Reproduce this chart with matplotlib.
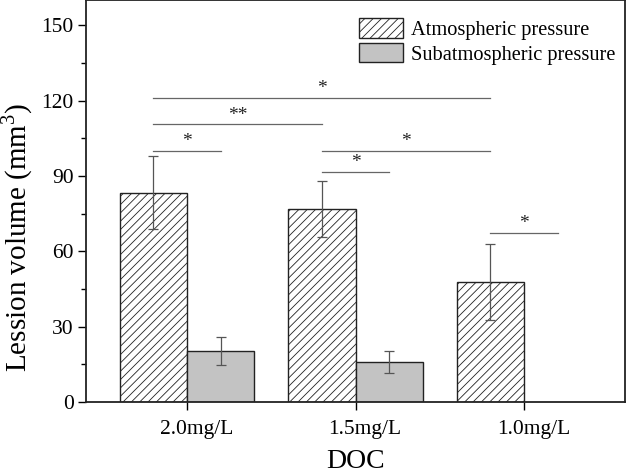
import matplotlib
matplotlib.use("Agg")
import matplotlib.pyplot as plt
import numpy as np
from matplotlib.ticker import MultipleLocator, FixedLocator, NullFormatter, FixedFormatter

plt.rcParams['font.family'] = ['Liberation Serif', 'DejaVu Serif']
plt.rcParams['hatch.linewidth'] = 0.6
plt.rcParams['mathtext.fontset'] = 'custom'
plt.rcParams['mathtext.rm'] = 'Liberation Serif'

categories = ['2.0mg/L', '1.5mg/L', '1.0mg/L']
atm_values = [83.3, 76.9, 47.8]
atm_err = [14.5, 11.2, 15.0]
sub_values = [20.4, 15.9, 0.0]
sub_err = [5.6, 4.3, 0.0]

# significance brackets
sig_x1 = [-0.2, -0.2, -0.2, 0.8, 0.8, 1.8]
sig_x2 = [1.8, 0.8, 0.2, 1.8, 1.2, 2.2]
sig_y = [121, 110.5, 100, 100, 91.5, 67.2]
sig_lab = ['*', '**', '*', '*', '*', '*']

fig = plt.figure(figsize=(6.26, 4.74), dpi=100)
ax = fig.add_axes([86/626, 72/474, 539/626, 402/474])

x = np.arange(len(categories))
w = 0.4
ax.bar(x - w/2, atm_values, w, facecolor='white', edgecolor='#222222', hatch='////',
       linewidth=1.0, label='Atmospheric pressure')
ax.bar(x[:2] + w/2, sub_values[:2], w, facecolor='#c3c3c3', edgecolor='#222222',
       linewidth=1.0, label='Subatmospheric pressure')
ax.errorbar(x - w/2, atm_values, yerr=atm_err, fmt='none', ecolor='#555555',
            elinewidth=0.9, capsize=3.5, capthick=0.9)
ax.errorbar(x[:2] + w/2, sub_values[:2], yerr=sub_err[:2], fmt='none', ecolor='#555555',
            elinewidth=0.9, capsize=3.5, capthick=0.9)

for x1, x2, y, lab in zip(sig_x1, sig_x2, sig_y, sig_lab):
    ax.plot([x1, x2], [y, y], color='#666666', lw=0.9)
    ax.text((x1 + x2) / 2, y + 0.3, lab, ha='center', va='bottom', fontsize=14, color='#222222')

ax.set_xlim(-0.6, 2.6)
ax.set_ylim(0, 160)
# major ticks (marks only) at categories, labels on slightly shifted minor ticks
ax.xaxis.set_major_locator(FixedLocator(x))
ax.xaxis.set_major_formatter(NullFormatter())
ax.xaxis.set_minor_locator(FixedLocator(x + 0.056))
ax.xaxis.set_minor_formatter(FixedFormatter(categories))
ax.tick_params(axis='x', which='major', length=6, width=1, direction='out')
ax.tick_params(axis='x', which='minor', length=0, labelsize=15.5, pad=13)

ax.yaxis.set_major_locator(MultipleLocator(30))
ax.yaxis.set_minor_locator(MultipleLocator(15))
ax.set_ylim(0, 160)
ax.tick_params(axis='y', which='major', labelsize=15.5, length=6, width=1, direction='out', pad=3)
ax.tick_params(axis='y', which='minor', length=3.5, width=1, direction='out')
for s in ax.spines.values():
    s.set_linewidth(1.3)
    s.set_color('#222222')

ax.set_ylabel('Lession volume (mm$^3$)', fontsize=21)
ax.yaxis.set_label_coords(-0.095, 0.41)
ax.set_xlabel('DOC', fontsize=20, labelpad=7)

leg = ax.legend(loc='upper right', bbox_to_anchor=(615/626, 1 - 18/474),
                bbox_transform=fig.transFigure, fontsize=14.7, frameon=False,
                handlelength=2.2, handleheight=1.1, handletextpad=0.35, labelspacing=0.15,
                borderaxespad=0, borderpad=0)

fig.savefig('out.png', dpi=100)
